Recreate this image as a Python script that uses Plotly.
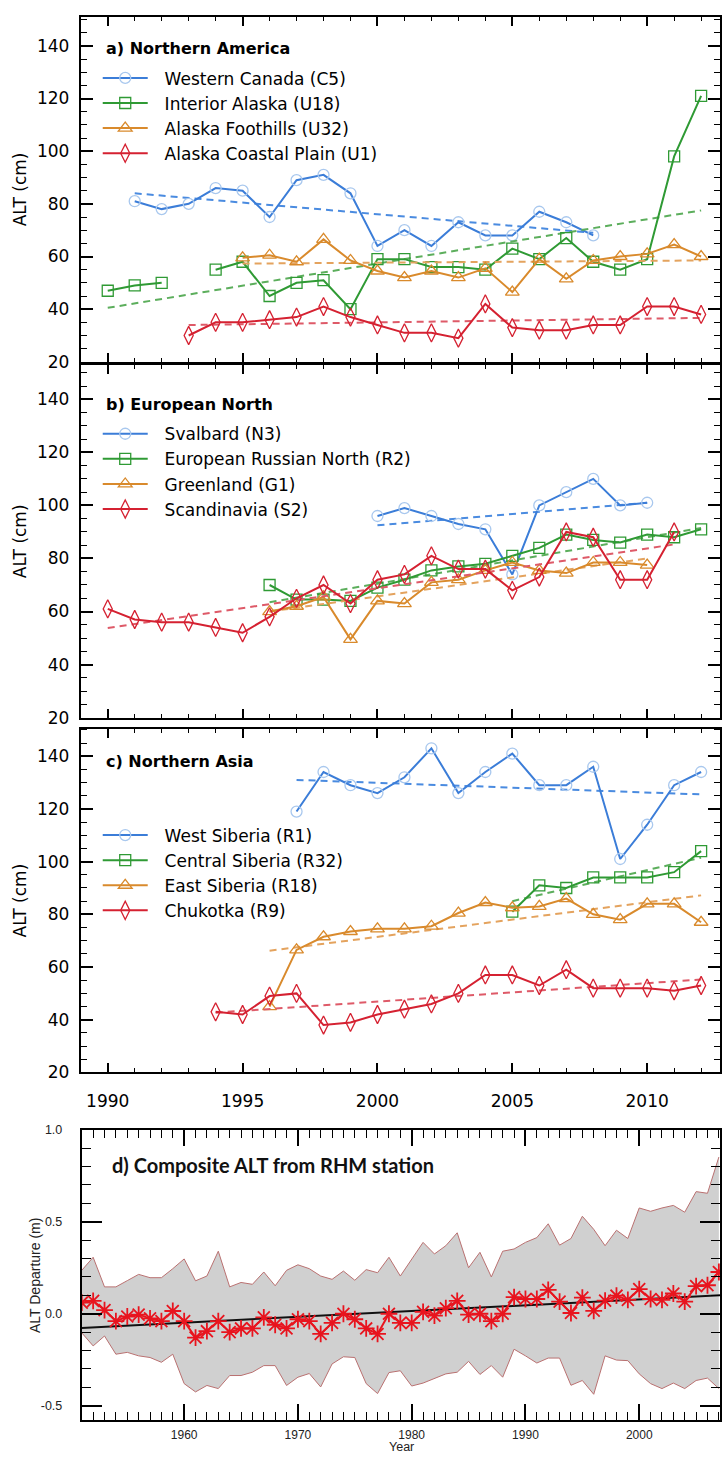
import plotly.graph_objects as go

W, H = 722, 1465

# ---------------- data ----------------
# (a) Northern America
yrs_wc = list(range(1991, 2009))
alt_wc = [81, 78, 80, 86, 85, 75, 89, 91, 84, 64, 70, 64, 73, 68, 68, 77, 73, 68]
trend_wc_x, trend_wc_y = [1991, 2008], [84, 69]

yrs_ia = list(range(1990, 2013))
alt_ia = [47, 49, 50, None, 55, 58, 45, 50, 51, 40, 59, 59, 56, 56, 55, 63, 59, 67, 58, 55, 59, 98, 121]
trend_ia_x, trend_ia_y = [1990, 2012], [40.5, 77.5]

yrs_af = list(range(1995, 2013))
alt_af = [59.5, 60.5, 58, 66.5, 58.5, 54.5, 52, 54.5, 52, 55.5, 46.5, 59, 51.5, 58.5, 60, 61, 64.5, 60]
trend_af_x, trend_af_y = [1995, 2012], [57.3, 58.5]

yrs_acp = list(range(1993, 2013))
alt_acp = [30, 35, 35, 36, 37, 41, 37, 34, 31, 31, 29, 42, 33, 32, 32, 34, 34, 41, 41, 38]
trend_acp_x, trend_acp_y = [1993, 2012], [34, 36.7]

# (b) European North
yrs_sv = list(range(2000, 2011))
alt_sv = [96, 99, 96, 93, 91, 74, 100, 105, 110, 100, 101]
trend_sv_x, trend_sv_y = [2000, 2010], [92.5, 101]

yrs_ern = list(range(1996, 2013))
alt_ern = [70, 64.5, 64.5, 64, 69, 72, 75.5, 77, 78, 81, 84, 89, 87, 86, 89, 88, 91]
trend_ern_x, trend_ern_y = [1996, 2012], [63.5, 91.5]

yrs_gl = list(range(1996, 2011))
alt_gl = [60, 62, 65.5, 49.5, 64, 63, 71, 72, 75.5, 78.5, 75.5, 74.5, 78.5, 78.5, 77.5]
trend_gl_x, trend_gl_y = [1996, 2010], [60, 80]

yrs_sc = list(range(1990, 2012))
alt_sc = [61, 57, 56, 56, 54, 52, 58, 65, 70, 63, 72, 74, 81, 76, 76, 68, 73, 90, 88, 72, 72, 90]
trend_sc_x, trend_sc_y = [1990, 2011], [53.8, 85.3]

# (c) Northern Asia
yrs_ws = list(range(1997, 2013))
alt_ws = [119, 134, 129, 126, 132, 143, 126, 134, 141, 129, 129, 136, 101, 114, 129, 134]
trend_ws_x, trend_ws_y = [1997, 2012], [131, 125.5]

yrs_cs = list(range(2005, 2013))
alt_cs = [81, 91, 90, 94, 94, 94, 96, 104]
trend_cs_x, trend_cs_y = [2005, 2012], [85, 101.5]

yrs_es = list(range(1996, 2013))
alt_es = [45, 66.5, 71.5, 73.5, 74.5, 74.5, 75.5, 80.5, 84.5, 82.5, 83, 86, 80, 78, 84, 84, 77]
trend_es_x, trend_es_y = [1996, 2012], [66.2, 87.2]

yrs_ch = list(range(1994, 2013))
alt_ch = [43, 42, 49, 50, 38, 39, 42, 44, 46, 50, 57, 57, 53, 59, 52, 52, 52, 51, 53]
trend_ch_x, trend_ch_y = [1994, 2012], [42.7, 55.3]

# (d) Composite ALT from RHM stations
yrs_d = list(range(1951, 2008))
alt_mean = [0.06, 0.07, 0.02, -0.04, -0.015, -0.005, -0.025, -0.04, 0.015, -0.04,
            -0.13, -0.095, -0.04, -0.10, -0.08, -0.08, -0.02, -0.06, -0.08, -0.03,
            -0.04, -0.11, -0.05, 0.00, -0.03, -0.08, -0.11, 0.00, -0.05, -0.05,
            0.01, -0.01, 0.03, 0.07, -0.005, 0.00, -0.04, 0.00, 0.09, 0.08,
            0.08, 0.13, 0.066, 0.004, 0.088, 0.016, 0.071, 0.098, 0.075, 0.134,
            0.08, 0.075, 0.11, 0.066, 0.15, 0.155, 0.227]
alt_upper = [0.236, 0.307, 0.146, 0.146, 0.18, 0.214, 0.196, 0.196, 0.245, 0.298,
             0.179, 0.205, 0.34, 0.146, 0.17, 0.16, 0.227, 0.152, 0.236, 0.266,
             0.245, 0.205, 0.187, 0.232, 0.182, 0.24, 0.223, 0.307, 0.205, 0.293,
             0.388, 0.325, 0.37, 0.44, 0.25, 0.334, 0.20, 0.34, 0.352, 0.388,
             0.414, 0.489, 0.373, 0.409, 0.53, 0.459, 0.37, 0.454, 0.409, 0.575,
             0.557, 0.575, 0.589, 0.552, 0.664, 0.655, 0.852]
alt_lower = [-0.104, -0.175, -0.121, -0.22, -0.21, -0.229, -0.238, -0.264, -0.22, -0.38,
             -0.425, -0.39, -0.407, -0.336, -0.336, -0.318, -0.282, -0.282, -0.39, -0.345,
             -0.325, -0.398, -0.273, -0.234, -0.238, -0.38, -0.434, -0.32, -0.31, -0.393,
             -0.377, -0.354, -0.327, -0.318, -0.259, -0.33, -0.282, -0.345, -0.193, -0.229,
             -0.268, -0.241, -0.241, -0.389, -0.363, -0.438, -0.229, -0.252, -0.255, -0.327,
             -0.38, -0.407, -0.377, -0.407, -0.363, -0.35, -0.407]
trend_d_x, trend_d_y = [1951, 2007.1], [-0.077, 0.100]

# tick labels
alt_tickvals = [20, 40, 60, 80, 100, 120, 140]
year_tickvals = [1990, 1995, 2000, 2005, 2010]
d_year_tickvals = [1960, 1970, 1980, 1990, 2000]
d_tickvals = [-0.5, 0.0, 0.5, 1.0]
d_ticktext = ["-0.5", "0.0", "0.5", "1.0"]

# ---------------- styles ----------------
STY = {
    "blue":   dict(line="#3b7dd8", mk="#a9c8ee", trend="#4a8be0", symbol="circle-open", size=11),
    "green":  dict(line="#2f9a34", mk="#2f9a34", trend="#5cae5c", symbol="square-open", size=11),
    "orange": dict(line="#d98a2c", mk="#d98a2c", trend="#e4a35e", symbol="triangle-up-open", size=12),
    "red":    dict(line="#d52131", mk="#d52131", trend="#de5a68", symbol="diamond-tall-open", size=13),
}
FONT = "DejaVu Sans"
LEG_PAD = "\u2002\u2009"

fig = go.Figure()


def add_series(name, xs, ys, tx, ty, color, xa, ya, legend):
    s = STY[color]
    fig.add_trace(go.Scatter(
        x=tx, y=ty, mode="lines", xaxis=xa, yaxis=ya, showlegend=False,
        line=dict(color=s["trend"], width=2, dash="7px,5px"), hoverinfo="skip"))
    fig.add_trace(go.Scatter(
        x=xs, y=ys, name=LEG_PAD + name, mode="lines+markers", xaxis=xa, yaxis=ya, legend=legend,
        connectgaps=False,
        line=dict(color=s["line"], width=2),
        marker=dict(symbol=s["symbol"], size=s["size"], color=s["mk"],
                    line=dict(color=s["mk"], width=1.3))))


# panel a
add_series("Western Canada (C5)", yrs_wc, alt_wc, trend_wc_x, trend_wc_y, "blue", "x", "y", "legend")
add_series("Interior Alaska (U18)", yrs_ia, alt_ia, trend_ia_x, trend_ia_y, "green", "x", "y", "legend")
add_series("Alaska Foothills (U32)", yrs_af, alt_af, trend_af_x, trend_af_y, "orange", "x", "y", "legend")
add_series("Alaska Coastal Plain (U1)", yrs_acp, alt_acp, trend_acp_x, trend_acp_y, "red", "x", "y", "legend")
# panel b
add_series("Svalbard (N3)", yrs_sv, alt_sv, trend_sv_x, trend_sv_y, "blue", "x2", "y2", "legend2")
add_series("European Russian North (R2)", yrs_ern, alt_ern, trend_ern_x, trend_ern_y, "green", "x2", "y2", "legend2")
add_series("Greenland (G1)", yrs_gl, alt_gl, trend_gl_x, trend_gl_y, "orange", "x2", "y2", "legend2")
add_series("Scandinavia (S2)", yrs_sc, alt_sc, trend_sc_x, trend_sc_y, "red", "x2", "y2", "legend2")
# panel c
add_series("West Siberia (R1)", yrs_ws, alt_ws, trend_ws_x, trend_ws_y, "blue", "x3", "y3", "legend3")
add_series("Central Siberia (R32)", yrs_cs, alt_cs, trend_cs_x, trend_cs_y, "green", "x3", "y3", "legend3")
add_series("East Siberia (R18)", yrs_es, alt_es, trend_es_x, trend_es_y, "orange", "x3", "y3", "legend3")
add_series("Chukotka (R9)", yrs_ch, alt_ch, trend_ch_x, trend_ch_y, "red", "x3", "y3", "legend3")

# panel d
BAND_EDGE = "#b97070"
fig.add_trace(go.Scatter(x=yrs_d, y=alt_lower, mode="lines", xaxis="x4", yaxis="y4",
                         showlegend=False, line=dict(color=BAND_EDGE, width=1)))
fig.add_trace(go.Scatter(x=yrs_d, y=alt_upper, mode="lines", xaxis="x4", yaxis="y4",
                         showlegend=False, fill="tonexty", fillcolor="#d0d0d0",
                         line=dict(color=BAND_EDGE, width=1)))
fig.add_trace(go.Scatter(x=trend_d_x, y=trend_d_y, mode="lines", xaxis="x4", yaxis="y4",
                         showlegend=False, line=dict(color="#111111", width=2)))
fig.add_trace(go.Scatter(x=yrs_d, y=alt_mean, mode="lines+markers", xaxis="x4", yaxis="y4",
                         showlegend=False, line=dict(color="#e8141e", width=2),
                         marker=dict(symbol="asterisk-open", size=14, color="#e8141e",
                                     line=dict(color="#e8141e", width=1.8))))

# ---------------- layout ----------------
def py(px):
    return 1 - px / H


XL = 81 / W
XL_D = 82 / W
dom = {
    "a": [py(359), py(10)],
    "b": [py(719), py(362)],
    "c": [py(1078), py(730)],
    "d": [py(1430), py(1136)],
}

axis_common = dict(showline=True, linewidth=2, linecolor="black", mirror="allticks",
                   ticks="inside", tickcolor="black", showgrid=False, zeroline=False)


def xab(anchor, show):
    return dict(**axis_common, domain=[XL, 1], anchor=anchor, range=[1989, 2012.7],
                tickvals=year_tickvals, ticklen=9, tickwidth=1.5,
                showticklabels=show, tickfont=dict(family=FONT, size=17, color="black"),
                ticklabelstandoff=12,
                minor=dict(dtick=1, tick0=1990, ticks="inside", ticklen=4, tickwidth=1.3,
                           tickcolor="black", showgrid=False))


def yab(anchor, d, top):
    return dict(**axis_common, domain=d, anchor=anchor, range=[20, top],
                tickvals=alt_tickvals, ticklen=12, tickwidth=1.5,
                tickfont=dict(family=FONT, size=17, color="black"), ticklabelstandoff=6,
                minor=dict(dtick=5, tick0=20, ticks="inside", ticklen=6, tickwidth=1.3,
                           tickcolor="black", showgrid=False))


legend_common = dict(xref="paper", yref="paper", xanchor="left", yanchor="top",
                     bgcolor="rgba(0,0,0,0)", borderwidth=0, itemwidth=45,
                     traceorder="normal",
                     font=dict(family=FONT, size=17, color="black"),
                     tracegroupgap=0)

fig.update_layout(
    width=W, height=H, margin=dict(l=0, r=0, t=0, b=0),
    paper_bgcolor="white", plot_bgcolor="white",
    xaxis=xab("y", False), yaxis=yab("x", dom["a"], 151),
    xaxis2=xab("y2", False), yaxis2=yab("x2", dom["b"], 153),
    xaxis3=xab("y3", True), yaxis3=yab("x3", dom["c"], 150.5),
    xaxis4=dict(**axis_common, domain=[XL_D, 1], anchor="y4", range=[1951, 2007.1],
                tickvals=d_year_tickvals, ticklen=16, tickwidth=1.6,
                tickfont=dict(family="Liberation Sans", size=12, color="#222"),
                ticklabelstandoff=2,
                minor=dict(dtick=1, tick0=1960, ticks="inside", ticklen=8, tickwidth=1.4,
                           tickcolor="black", showgrid=False)),
    yaxis4=dict(**axis_common, domain=dom["d"], anchor="x4", range=[-0.58, 1.0],
                tickvals=d_tickvals, ticktext=d_ticktext, ticklen=20, tickwidth=1.6,
                tickfont=dict(family="Liberation Sans", size=12.5, color="#222"),
                ticklabelstandoff=15,
                minor=dict(dtick=0.1, tick0=0, ticks="inside", ticklen=9, tickwidth=1.4,
                           tickcolor="black", showgrid=False)),
    legend=dict(**legend_common, x=98 / W, y=py(54)),
    legend2=dict(**legend_common, x=98 / W, y=py(414)),
    legend3=dict(**legend_common, x=98 / W, y=py(820)),
    showlegend=True,
)

ann = []
for txt, ypx in [("a) Northern America", 42), ("b) European North", 402), ("c) Northern Asia", 763)]:
    ann.append(dict(text="<b>" + txt + "</b>", x=104 / W, y=py(ypx), xref="paper", yref="paper",
                    xanchor="left", yanchor="middle", showarrow=False,
                    font=dict(family=FONT, size=16, color="black")))
for key in ["a", "b", "c"]:
    d = dom[key]
    ann.append(dict(text="ALT (cm)", x=20 / W, y=(d[0] + d[1]) / 2, xref="paper", yref="paper",
                    xanchor="center", yanchor="middle", textangle=-90, showarrow=False,
                    font=dict(family=FONT, size=17, color="black")))
ann.append(dict(text="<b>d) Composite ALT from RHM station</b>", x=110 / W, y=py(1172),
                xref="paper", yref="paper", xanchor="left", yanchor="middle", showarrow=False,
                font=dict(family="Lato", size=20, color="#111")))
ann.append(dict(text="ALT Departure (m)", x=35 / W, y=(dom["d"][0] + dom["d"][1]) / 2,
                xref="paper", yref="paper", xanchor="center", yanchor="middle", textangle=-90,
                showarrow=False, font=dict(family="Liberation Sans", size=14, color="#222")))
ann.append(dict(text="Year", x=403 / W, y=0, xref="paper", yref="paper",
                xanchor="center", yanchor="bottom", showarrow=False, borderpad=0,
                font=dict(family="Liberation Sans", size=12.5, color="#222")))
fig.update_layout(annotations=ann)

POST = (
    "document.documentElement.style.margin='0';"
    "document.documentElement.style.overflow='hidden';"
    "document.body.style.margin='0';document.body.style.padding='0';"
    "document.body.style.overflow='hidden';"
    "var g=document.getElementById('{plot_id}');"
    "g.style.position='fixed';g.style.left='0px';g.style.top='0px';"
)

fig.write_html("out.html", config={"displayModeBar": False}, post_script=POST)
